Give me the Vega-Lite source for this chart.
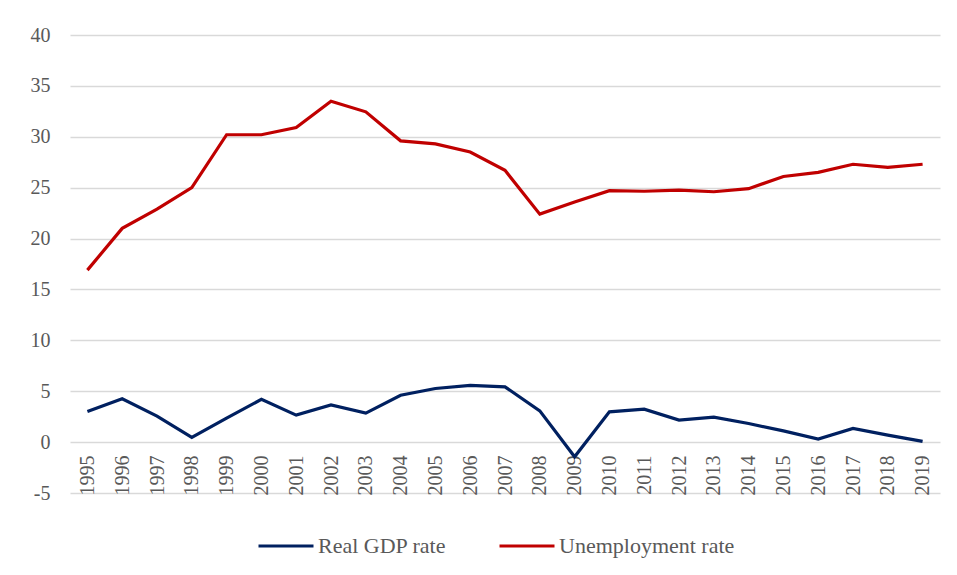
{
  "$schema": "https://vega.github.io/schema/vega-lite/v6.json",
  "autosize": "none",
  "width": 870,
  "height": 458,
  "padding": {"left": 70, "top": 35, "right": 17, "bottom": 82},
  "background": "white",
  "config": {
    "view": {"stroke": null},
    "font": "Liberation Serif"
  },
  "data": {
    "values": [
      {"year": "1995", "series": "Real GDP rate", "value": 3.0},
      {"year": "1996", "series": "Real GDP rate", "value": 4.25},
      {"year": "1997", "series": "Real GDP rate", "value": 2.55},
      {"year": "1998", "series": "Real GDP rate", "value": 0.46},
      {"year": "1999", "series": "Real GDP rate", "value": 2.35},
      {"year": "2000", "series": "Real GDP rate", "value": 4.2},
      {"year": "2001", "series": "Real GDP rate", "value": 2.65},
      {"year": "2002", "series": "Real GDP rate", "value": 3.66},
      {"year": "2003", "series": "Real GDP rate", "value": 2.85},
      {"year": "2004", "series": "Real GDP rate", "value": 4.6},
      {"year": "2005", "series": "Real GDP rate", "value": 5.27},
      {"year": "2006", "series": "Real GDP rate", "value": 5.57},
      {"year": "2007", "series": "Real GDP rate", "value": 5.43},
      {"year": "2008", "series": "Real GDP rate", "value": 3.07},
      {"year": "2009", "series": "Real GDP rate", "value": -1.44},
      {"year": "2010", "series": "Real GDP rate", "value": 2.98},
      {"year": "2011", "series": "Real GDP rate", "value": 3.24},
      {"year": "2012", "series": "Real GDP rate", "value": 2.16},
      {"year": "2013", "series": "Real GDP rate", "value": 2.46},
      {"year": "2014", "series": "Real GDP rate", "value": 1.83},
      {"year": "2015", "series": "Real GDP rate", "value": 1.1},
      {"year": "2016", "series": "Real GDP rate", "value": 0.3},
      {"year": "2017", "series": "Real GDP rate", "value": 1.35},
      {"year": "2018", "series": "Real GDP rate", "value": 0.69},
      {"year": "2019", "series": "Real GDP rate", "value": 0.07},
      {"year": "1995", "series": "Unemployment rate", "value": 16.9},
      {"year": "1996", "series": "Unemployment rate", "value": 21.0},
      {"year": "1997", "series": "Unemployment rate", "value": 22.9},
      {"year": "1998", "series": "Unemployment rate", "value": 25.0},
      {"year": "1999", "series": "Unemployment rate", "value": 30.2},
      {"year": "2000", "series": "Unemployment rate", "value": 30.2},
      {"year": "2001", "series": "Unemployment rate", "value": 30.9},
      {"year": "2002", "series": "Unemployment rate", "value": 33.5},
      {"year": "2003", "series": "Unemployment rate", "value": 32.45},
      {"year": "2004", "series": "Unemployment rate", "value": 29.6},
      {"year": "2005", "series": "Unemployment rate", "value": 29.3},
      {"year": "2006", "series": "Unemployment rate", "value": 28.5},
      {"year": "2007", "series": "Unemployment rate", "value": 26.7},
      {"year": "2008", "series": "Unemployment rate", "value": 22.4},
      {"year": "2009", "series": "Unemployment rate", "value": 23.6},
      {"year": "2010", "series": "Unemployment rate", "value": 24.7},
      {"year": "2011", "series": "Unemployment rate", "value": 24.65},
      {"year": "2012", "series": "Unemployment rate", "value": 24.75},
      {"year": "2013", "series": "Unemployment rate", "value": 24.6},
      {"year": "2014", "series": "Unemployment rate", "value": 24.9},
      {"year": "2015", "series": "Unemployment rate", "value": 26.1},
      {"year": "2016", "series": "Unemployment rate", "value": 26.5},
      {"year": "2017", "series": "Unemployment rate", "value": 27.3},
      {"year": "2018", "series": "Unemployment rate", "value": 27.0},
      {"year": "2019", "series": "Unemployment rate", "value": 27.3}
    ]
  },
  "mark": {"type": "line", "strokeWidth": 3.2, "strokeJoin": "miter"},
  "encoding": {
    "x": {
      "field": "year", "type": "ordinal",
      "scale": {"type": "point", "padding": 0.5},
      "axis": {
        "title": null, "labelAngle": 270, "domain": false, "ticks": false,
        "grid": false, "offset": -51, "labelPadding": 13,
        "labelFont": "Liberation Serif", "labelFontSize": 20, "labelColor": "#595959"
      }
    },
    "y": {
      "field": "value", "type": "quantitative",
      "scale": {"domain": [-5, 40], "nice": false, "zero": false},
      "axis": {
        "title": null, "values": [-5, 0, 5, 10, 15, 20, 25, 30, 35, 40],
        "labelExpr": "datum.value < 0 ? '-' + abs(datum.value) : datum.label",
        "domain": false, "ticks": false, "labelPadding": 20,
        "labelFont": "Liberation Serif", "labelFontSize": 20, "labelColor": "#595959",
        "gridColor": "#d9d9d9", "gridWidth": 1.5
      }
    },
    "color": {
      "field": "series", "type": "nominal",
      "scale": {"domain": ["Real GDP rate", "Unemployment rate"], "range": ["#002060", "#c00000"]},
      "legend": {
        "title": null, "orient": "none", "direction": "horizontal",
        "legendX": 187, "legendY": 482, "padding": 0,
        "symbolType": "stroke", "symbolSize": 3025, "symbolStrokeWidth": 3,
        "labelFont": "Liberation Serif", "labelFontSize": 22, "labelColor": "#595959",
        "labelOffset": 3, "columnPadding": 46, "labelLimit": 300
      }
    }
  }
}
